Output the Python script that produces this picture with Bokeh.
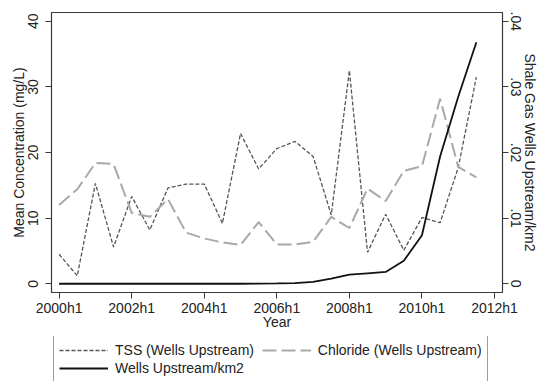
from bokeh.plotting import figure
from bokeh.layouts import column
from bokeh.models import Range1d, LinearAxis, FixedTicker, Legend, LegendItem, ColumnDataSource
from bokeh.embed import file_html
from bokeh.resources import INLINE

periods = ["2000h1", "2000h2", "2001h1", "2001h2", "2002h1", "2002h2",
           "2003h1", "2003h2", "2004h1", "2004h2", "2005h1", "2005h2",
           "2006h1", "2006h2", "2007h1", "2007h2", "2008h1", "2008h2",
           "2009h1", "2009h2", "2010h1", "2010h2", "2011h1", "2011h2"]
tss = [4.5, 1.2, 15.3, 5.6, 13.3, 8.2, 14.6, 15.2, 15.2, 9.2, 22.9, 17.5,
       20.6, 21.7, 19.4, 10.5, 32.5, 4.8, 10.6, 5.1, 10.1, 9.3, 17.7, 31.5]
chloride = [12.0, 14.4, 18.4, 18.25, 10.8, 10.2, 12.9, 7.8, 6.9, 6.3, 5.9, 9.4,
            6.0, 6.0, 6.4, 10.2, 8.5, 14.5, 12.6, 17.2, 17.9, 28.2, 17.8, 16.2]
wells = [0, 0, 0, 0, 0, 0, 0, 0, 0, 0, 0, 0.00002,
         0.00005, 0.0001, 0.0003, 0.0008, 0.0014, 0.0016, 0.0018, 0.0035,
         0.0074, 0.0194, 0.0285, 0.0368]

x_tick_labels = ["2000h1", "2002h1", "2004h1", "2006h1", "2008h1", "2010h1", "2012h1"]
left_ticks = [0, 10, 20, 30, 40]
right_ticks = [0, 0.01, 0.02, 0.03, 0.04]
right_tick_labels = ["0", ".01", ".02", ".03", ".04"]
series_labels = ["TSS (Wells Upstream)", "Chloride (Wells Upstream)", "Wells Upstream/km2"]
series_keys = ["tss", "chloride", "wells"]

FONT = "Liberation Sans"
FRAME = "#3a3a3a"
TEXT = "#222222"
STYLES = [dict(line_color="#555555", line_width=1.3, line_dash="4 2"),
          dict(line_color="#a9a9a9", line_width=2, line_dash="14 5"),
          dict(line_color="#111111", line_width=1.8)]

src = ColumnDataSource(dict(x=list(range(len(periods))), tss=tss,
                            chloride=chloride, wells=wells))

p = figure(width=540, height=336, output_backend="svg", toolbar_location=None,
           x_range=Range1d(-0.42, 24.44), y_range=Range1d(-1.33, 41.34),
           min_border_left=51, min_border_right=37, min_border_top=12,
           min_border_bottom=44)
p.extra_y_ranges = {"wells": Range1d(-0.00133, 0.04134)}

p.xgrid.visible = False
p.ygrid.visible = False
p.outline_line_color = FRAME
p.outline_line_width = 1.2
p.background_fill_color = "white"
p.border_fill_color = "white"

p.line("x", "tss", source=src, **STYLES[0])
p.line("x", "chloride", source=src, **STYLES[1])
p.line("x", "wells", source=src, y_range_name="wells", **STYLES[2])

# x axis
xa = p.xaxis[0]
xticks = [periods.index(l) if l in periods else len(periods) for l in x_tick_labels]
xa.ticker = FixedTicker(ticks=xticks)
xa.major_label_overrides = {t: l for t, l in zip(xticks, x_tick_labels)}
xa.axis_label = "Year"

# left axis
ya = p.yaxis[0]
ya.ticker = FixedTicker(ticks=left_ticks)
ya.axis_label = "Mean Concentration (mg/L)"
ya.major_label_orientation = "vertical"

# right axis
ra = LinearAxis(y_range_name="wells", axis_label="Shale Gas Wells Upstream/km2")
ra.ticker = FixedTicker(ticks=right_ticks)
ra.major_label_overrides = {t: l for t, l in zip(right_ticks, right_tick_labels)}
ra.major_label_orientation = "vertical"
p.add_layout(ra, "right")

for ax in (xa, ya, ra):
    ax.axis_line_color = FRAME
    ax.major_tick_line_color = FRAME
    ax.major_tick_out = 6
    ax.major_tick_in = 0
    ax.minor_tick_line_color = None
    ax.major_label_text_font = FONT
    ax.major_label_text_font_size = "14px"
    ax.major_label_text_color = TEXT
    ax.axis_label_text_font = FONT
    ax.axis_label_text_font_size = "14px"
    ax.axis_label_text_font_style = "normal"
    ax.axis_label_text_color = TEXT

xa.major_label_standoff = 1
xa.axis_label_standoff = -5
ya.major_label_standoff = 7
ya.axis_label_standoff = -1
ra.major_label_standoff = 2
ra.axis_label_standoff = -2

# legend strip below the plot (its frame is aligned with the plot's frame)
lg = figure(width=540, height=45, output_backend="svg", toolbar_location=None,
            x_range=Range1d(-100, -99), y_range=Range1d(0, 1),
            x_axis_location=None, y_axis_location=None,
            min_border_left=0, min_border_right=0, min_border_top=0,
            min_border_bottom=0)
lg.xgrid.visible = False
lg.ygrid.visible = False
lg.outline_line_color = None
lg.background_fill_color = "white"
lg.border_fill_color = "white"

items = []
for i, (lab, key, st) in enumerate(zip(series_labels, series_keys, STYLES)):
    r = lg.line("x", key, source=src, **st)
    items.append(LegendItem(label=lab + ("  " if i == 0 else ""), renderers=[r]))

legend = Legend(items=items, orientation="horizontal", ncols=2, location=(2, -2))
legend.label_text_font = FONT
legend.label_text_font_size = "14px"
legend.label_text_color = TEXT
legend.glyph_width = 49
legend.glyph_height = 18
legend.label_height = 18
legend.label_standoff = 7
legend.spacing = 0
legend.padding = 5
legend.margin = 0
legend.border_line_color = FRAME
legend.border_line_width = 1
legend.background_fill_color = "white"
lg.add_layout(legend, "center")

layout = column(p, lg, spacing=0)
open("out.html", "w").write(file_html(layout, INLINE))
